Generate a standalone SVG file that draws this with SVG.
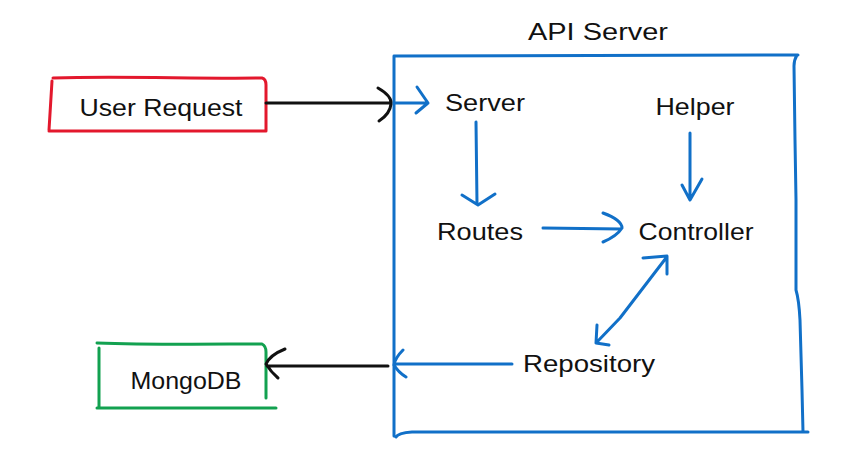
<svg xmlns="http://www.w3.org/2000/svg" width="860" height="475" viewBox="0 0 860 475">
<style>
.bg{fill:#ffffff}
.t{font-family:"Liberation Sans","DejaVu Sans",sans-serif;font-size:24px;fill:#111;text-anchor:middle}
.s{fill:none;stroke-width:3;stroke-linecap:round;stroke-linejoin:round}
.blue{stroke:#1170C8}
.blk{stroke:#111}
.red{stroke:#E3182D}
.grn{stroke:#12A150}
</style>
<rect class="bg" x="0" y="0" width="860" height="475"/>
<g id="api-server">
<path class="s blue" d="M 394 56 L 798 55 M 797 55 Q 794 60 794 66 L 795 140 L 796 200 L 796 290 Q 799 300 800 320 L 802 390 L 803 432 M 808 432 L 412 432 Q 398 433 396 437 M 394 56 L 394 436"/>
<text class="t" x="598" y="40" textLength="140" lengthAdjust="spacingAndGlyphs">API Server</text>
</g>
<g id="user-request">
<path class="s red" d="M 53 78 C 120 76 200 79 262 78 Q 266 79 266 85 L 266 131 M 49 131 L 266 131 M 52 81 L 49 130"/>
<text class="t" x="161" y="116" textLength="163" lengthAdjust="spacingAndGlyphs">User Request</text>
</g>
<g id="mongodb">
<path class="s grn" d="M 97 343 C 150 345 220 344 262 344 Q 266 346 266 352 L 266 398 M 97 408 L 276 408 M 99 348 L 99 407"/>
<text class="t" x="186" y="389" textLength="111" lengthAdjust="spacingAndGlyphs">MongoDB</text>
</g>
<g id="server"><text class="t" x="485" y="111" textLength="80" lengthAdjust="spacingAndGlyphs">Server</text></g>
<g id="helper"><text class="t" x="695" y="115" textLength="79" lengthAdjust="spacingAndGlyphs">Helper</text></g>
<g id="routes"><text class="t" x="480" y="240" textLength="86" lengthAdjust="spacingAndGlyphs">Routes</text></g>
<g id="controller"><text class="t" x="696" y="240" textLength="115" lengthAdjust="spacingAndGlyphs">Controller</text></g>
<g id="repository"><text class="t" x="589" y="372" textLength="132" lengthAdjust="spacingAndGlyphs">Repository</text></g>
<g id="connectors">
<path class="s blk" d="M 266 103 L 389 103 M 378 88 Q 392 96 391 104 Q 390 114 379 121"/>
<path class="s blue" d="M 394 103 L 428 103 M 417 87 L 428 103 L 416 113"/>
<path class="s blue" d="M 476 122 L 477 204 M 462 195 L 478 205 L 495 194"/>
<path class="s blue" d="M 690 133 L 690 199 M 682 185 L 690 200 L 702 179"/>
<path class="s blue" d="M 543 228 L 621 229 M 603 213 Q 622 220 622 228 Q 617 236 603 242"/>
<path class="s blue" d="M 666 258 L 620 318 L 597 342 M 643 258 L 667 256 L 667 274 M 597 325 L 596 343 L 609 345"/>
<path class="s blue" d="M 512 364 L 395 364 M 403 350 Q 395 358 394 365 Q 398 372 406 377"/>
<path class="s blk" d="M 388 366 L 267 366 M 285 349 Q 270 355 266 364 Q 271 372 278 378"/>
</g>
</svg>
